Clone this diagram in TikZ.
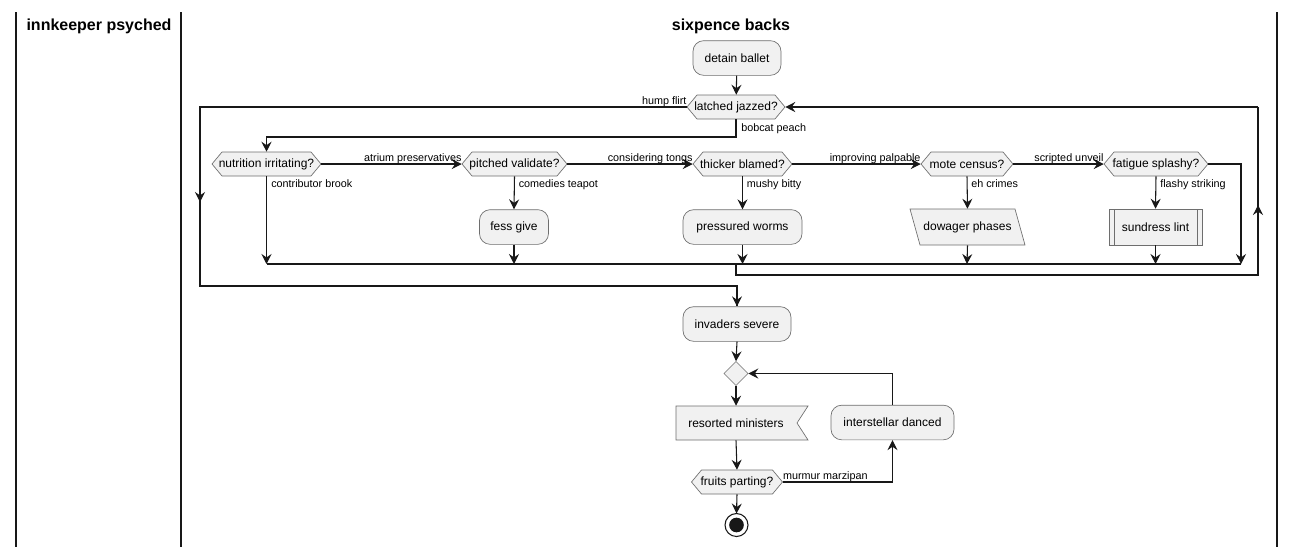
\documentclass[tikz,border=0pt]{standalone}
\usepackage{fontspec}
\setmainfont{Liberation Sans}
\usetikzlibrary{arrows.meta,calc}
\definecolor{nodefill}{HTML}{F1F1F1}
\definecolor{lc}{HTML}{181818}
\definecolor{nb}{HTML}{6E6E6E}
\tikzset{
  ln/.style={draw=lc, line width=0.8pt},
  arr/.style={ln, -{Stealth[length=7.5pt,width=7.5pt,inset=2.6pt]}},
  shp/.style={fill=nodefill, draw=nb, line width=0.5pt},
  txt/.style={inner sep=0pt, font=\fontsize{9}{11}\selectfont, text=black},
  rbox/.style={shp, rounded corners=8pt, inner sep=0pt, font=\fontsize{9}{11}\selectfont, minimum height=26pt},
  lbl/.style={inner sep=0pt, font=\fontsize{8.1}{10}\selectfont, text=black},
  lane/.style={draw=lc, line width=1pt},
  title/.style={inner sep=0pt, font=\fontsize{12}{14}\bfseries\selectfont, anchor=base}
}
% name, cx, cy, half width, text
\newcommand\hexnode[5]{%
  \filldraw[shp] (#2-#4,#3) -- (#2-#4+10,#3-12) -- (#2+#4-10,#3-12) -- (#2+#4,#3)
     -- (#2+#4-10,#3+12) -- (#2-#4+10,#3+12) -- cycle;
  \node[txt, minimum width=#4*1.5pt, minimum height=18pt] (#1) at (#2,#3) {#5};}
\begin{document}
\begin{tikzpicture}[x=0.75pt,y=-0.75pt]
\useasboundingbox (0,0) rectangle (1296,547);
% lanes
\draw[lane] (16,12) -- (16,547);
\draw[lane] (181,12) -- (181,547);
\draw[lane] (1277,12) -- (1277,547);
\node[title] (t1) at (99,30) {innkeeper psyched};
\node[title] (t2) at (731,30) {sixpence backs};

% nodes
\node[rbox, minimum width=66pt] (detain) at (737,58) {detain ballet};
\hexnode{latched}{736}{107}{49}{latched jazzed?}
\hexnode{nutr}{266.5}{164}{54.5}{nutrition irritating?}
\hexnode{pitched}{514.5}{164}{52.5}{pitched validate?}
\hexnode{thicker}{742.5}{164}{49.5}{thicker blamed?}
\hexnode{mote}{967}{164}{46}{mote census?}
\hexnode{fatigue}{1156}{164}{52}{fatigue splashy?}
\node[rbox, minimum width=51.75pt] (fess) at (514,227) {fess give};
\node[rbox, minimum width=89.25pt] (pressured) at (742.5,227) {pressured worms};
\filldraw[shp] (910,209) -- (1015,209) -- (1025,245) -- (920,245) -- cycle;
\node[txt, minimum width=80pt, minimum height=27pt] (dowager) at (967.5,227) {dowager phases};
\filldraw[shp] (1109,209) rectangle (1202,245);
\draw[draw=nb, line width=0.5pt] (1114,209) -- (1114,245) (1197,209) -- (1197,245);
\node[txt, minimum width=69.75pt, minimum height=27pt] (sundress) at (1155.5,227) {sundress lint};
\node[rbox, minimum width=81pt] (invaders) at (737,324) {invaders severe};
\filldraw[shp] (736,361.5) -- (748,373.5) -- (736,385.5) -- (724,373.5) -- cycle;
\node[inner sep=0pt, minimum size=18pt] (merge) at (736,373.5) {};
\filldraw[shp] (676,406) -- (808,406) -- (797,423) -- (808,440) -- (676,440) -- cycle;
\node[txt, minimum width=99pt, minimum height=25.5pt] (resorted) at (736,423) {resorted ministers};
\node[rbox, minimum width=92.25pt] (inter) at (892.5,422.5) {interstellar danced};
\hexnode{fruits}{737}{482}{45.5}{fruits parting?}
\filldraw[fill=white, draw=lc, line width=0.8pt] (736.5,525) circle (11.5);
\node[circle, fill=lc, inner sep=0pt, minimum size=11pt] (stop) at (736.5,525) {};

% coordinates
\coordinate (lw) at (200,107);
\coordinate (lwb) at (200,286);
\coordinate (bp) at (736,137);
\coordinate (m1) at (266.5,264);
\coordinate (m2) at (514,264);
\coordinate (m3) at (742.5,264);
\coordinate (m4) at (967,264);
\coordinate (m5) at (1155.5,264);
\coordinate (m6) at (1241,264);
\coordinate (fr) at (1241,164);
\coordinate (mo) at (736,264);
\coordinate (lb) at (736,275);
\coordinate (rb) at (1258,275);
\coordinate (rt) at (1258,107);
\coordinate (fm) at (892.5,482);
\coordinate (im) at (892.5,373.5);

% connectors
\draw[arr] (detain) -- (latched);
\draw[ln] (latched.west) -- (lw) -- (lwb) -| (invaders.north);
\draw[arr] (lwb) -| (invaders.north);
\draw[arr] (lw) -- (200,202);
\node[lbl, anchor=base east] (hl) at ([yshift=2.2pt]latched.west) {hump flirt};
\draw[arr] (latched.south) -- (bp) -| (nutr.north);
\node[lbl, anchor=base west] (bl) at (741,131) {bobcat peach};
\draw[arr] (nutr.east) -- (pitched.west);
\node[lbl, anchor=base east] (l1) at ([yshift=1.8pt]pitched.west) {atrium preservatives};
\draw[arr] (pitched.east) -- (thicker.west);
\node[lbl, anchor=base east] (l2) at ([yshift=1.8pt]thicker.west) {considering tongs};
\draw[arr] (thicker.east) -- (mote.west);
\node[lbl, anchor=base east] (l3) at ([yshift=1.8pt]mote.west) {improving palpable};
\draw[arr] (mote.east) -- (fatigue.west);
\node[lbl, anchor=base east] (l4) at ([yshift=1.8pt]fatigue.west) {scripted unveil};

\draw[arr] (nutr.south) -- (m1);
\node[lbl, anchor=base west] (d1) at (271,187) {contributor brook};
\draw[arr] (pitched.south) -- (fess.north);
\node[lbl, anchor=base west] (d2) at (518.5,187) {comedies teapot};
\draw[arr] (fess.south) -- (m2);
\draw[arr] (thicker.south) -- (pressured.north);
\node[lbl, anchor=base west] (d3) at (746.5,187) {mushy bitty};
\draw[arr] (pressured.south) -- (m3);
\draw[arr] (mote.south) -- (dowager.north);
\node[lbl, anchor=base west] (d4) at (971,187) {eh crimes};
\draw[arr] (dowager.south) -- (m4);
\draw[arr] (fatigue.south) -- (sundress.north);
\node[lbl, anchor=base west] (d5) at (1160,187) {flashy striking};
\draw[arr] (sundress.south) -- (m5);
\draw[arr] (fatigue.east) -- (fr) -- (m6);
\draw[ln] (m1) -- (m6);
\draw[ln] (mo) -- (lb) -- (rb) -- (rt);
\draw[arr] (rt) -- (latched.east);
\draw[arr] (rb) -- (1258,205);

\draw[arr] (invaders.south) -- (merge.north);
\draw[arr] (merge.south) -- (resorted.north);
\draw[arr] (resorted.south) -- (fruits.north);
\draw[arr] (fruits.east) -- (fm) -- (inter.south);
\node[lbl, anchor=base west] (mm) at ([yshift=2.2pt]fruits.east) {murmur marzipan};
\draw[arr] (inter.north) |- (merge.east);
\draw[arr] (fruits.south) -- (736.5,513.5);
\end{tikzpicture}
\end{document}
